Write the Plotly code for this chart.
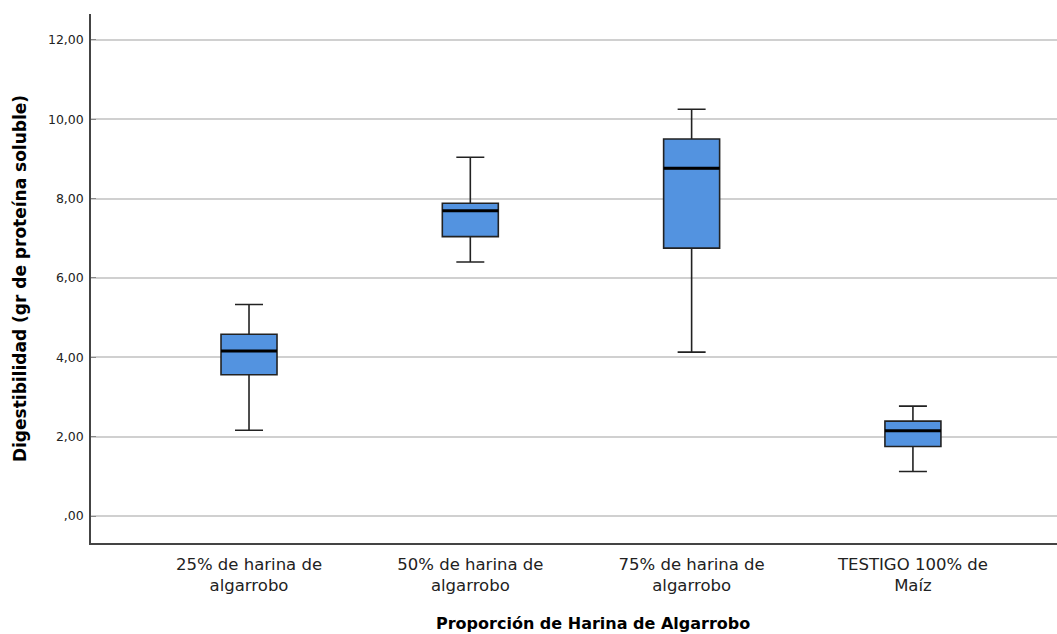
import plotly.graph_objects as go

categories = ["25% de harina de<br>algarrobo", "50% de harina de<br>algarrobo",
              "75% de harina de<br>algarrobo", "TESTIGO 100% de<br>Maíz"]
lower = [2.16, 6.40, 4.13, 1.12]
q1 = [3.56, 7.04, 6.75, 1.75]
median = [4.16, 7.69, 8.76, 2.15]
q3 = [4.58, 7.88, 9.50, 2.39]
upper = [5.33, 9.04, 10.25, 2.77]

ytick_vals = [0, 2, 4, 6, 8, 10, 12]
ytick_text = [",00", "2,00", "4,00", "6,00", "8,00", "10,00", "12,00"]

x_title = "Proporción de Harina de Algarrobo"
y_title = "Digestibilidad (gr de proteína soluble)"

BOX_W = 0.253
xs = list(range(len(categories)))

FONT = "DejaVu Sans, Liberation Sans, Arial, sans-serif"

fig = go.Figure()
fig.add_trace(go.Box(
    x=xs, q1=q1, median=median, q3=q3, lowerfence=lower, upperfence=upper,
    width=BOX_W, whiskerwidth=0.5,
    fillcolor="#5393e0", line=dict(color="#222222", width=1.6),
    boxpoints=False, hoverinfo="skip", showlegend=False,
))
for i, m in zip(xs, median):
    fig.add_trace(go.Scatter(
        x=[i - BOX_W / 2, i + BOX_W / 2], y=[m, m], mode="lines",
        line=dict(color="#000000", width=3), hoverinfo="skip", showlegend=False,
    ))

fig.update_layout(
    width=1057, height=634,
    margin=dict(l=91, r=0, t=14, b=91),
    plot_bgcolor="white", paper_bgcolor="white",
    font=dict(family=FONT, color="#222222"),
    xaxis=dict(
        range=[-0.714, 3.651], tickvals=xs, ticktext=categories,
        showgrid=False, zeroline=False, showline=True, linecolor="#444444", linewidth=1.5,
        ticks="", tickfont=dict(size=16.5, color="#222222"), automargin=False,
        ticklabelstandoff=5,
    ),
    yaxis=dict(
        range=[-0.68, 12.65], tickvals=ytick_vals, ticktext=ytick_text,
        showgrid=True, gridcolor="#d0d0d0", gridwidth=1.5, zeroline=False,
        showline=True, linecolor="#444444", linewidth=1.5,
        ticks="inside", ticklen=5, tickcolor="#888888", tickwidth=1,
        tickfont=dict(size=12.5, color="#222222"), automargin=False,
        ticklabelstandoff=3,
        title=dict(text="<b>" + y_title + "</b>", font=dict(size=17, color="#000000"), standoff=17),
    ),
    annotations=[dict(
        text="<b>" + x_title + "</b>", xref="paper", yref="paper",
        x=0.5197, y=-0.153, xanchor="center", yanchor="middle", showarrow=False,
        font=dict(size=16, color="#000000", family=FONT),
    )],
)

fig.write_html(
    "out.html",
    config={"displayModeBar": False},
    post_script="document.body.style.margin='0';document.body.style.overflow='hidden';",
)
